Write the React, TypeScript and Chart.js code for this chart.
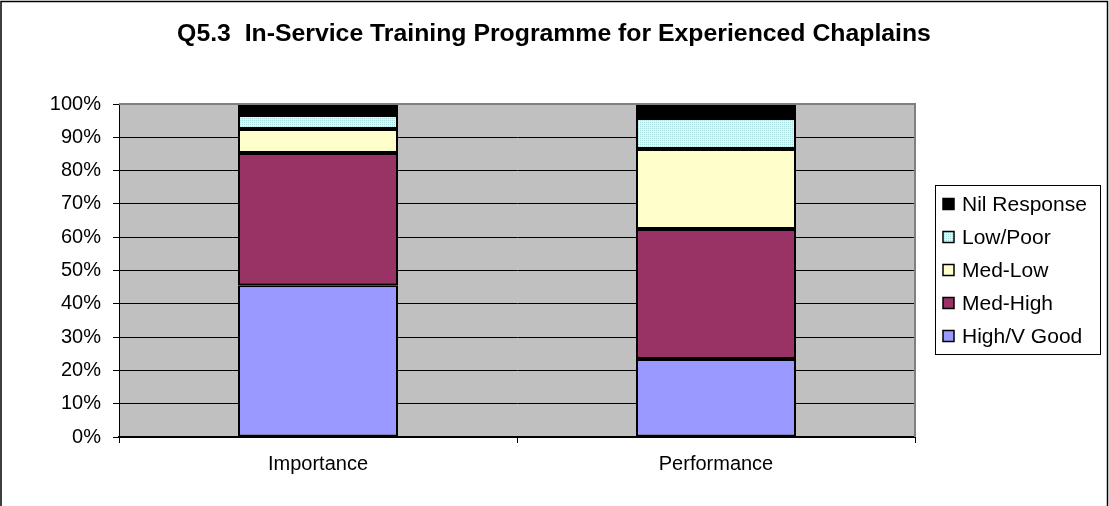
import React, { useEffect, useRef } from "react";
import { Chart, registerables } from "chart.js";

Chart.register(...registerables);

const categories = ["Importance", "Performance"];
const seriesNames = ["High/V Good", "Med-High", "Med-Low", "Low/Poor", "Nil Response"];
const highVGood = [45.6, 23.4];
const medHigh = [39.7, 39.1];
const medLow = [7.2, 24.0];
const lowPoor = [4.2, 9.3];
const nilResponse = [3.3, 4.2];
const yTicks = [0, 10, 20, 30, 40, 50, 60, 70, 80, 90, 100];
const titleText = "Q5.3  In-Service Training Programme for Experienced Chaplains";

const FONT = "'Liberation Sans', Arial, sans-serif";

function makeDotPattern(): CanvasPattern | string {
  const c = document.createElement("canvas");
  c.width = 2;
  c.height = 2;
  const g = c.getContext("2d");
  if (!g) return "#CCFFFF";
  g.fillStyle = "#CCFFFF";
  g.fillRect(0, 0, 2, 2);
  g.fillStyle = "#A8DCDC";
  g.fillRect(0, 0, 1, 1);
  const p = g.createPattern(c, "repeat");
  return p || "#CCFFFF";
}

export default function App() {
  const ref = useRef<HTMLCanvasElement | null>(null);

  useEffect(() => {
    document.body.style.margin = "0";
    const canvas = ref.current;
    if (!canvas) return;
    const dots = makeDotPattern();
    const colors: any[] = ["#9999FF", "#993366", "#FFFFCC", dots, "#000000"];
    const values = [highVGood, medHigh, medLow, lowPoor, nilResponse];

    const bgPlugin = {
      id: "plotBg",
      beforeDraw(chart: any) {
        const { ctx, chartArea } = chart;
        ctx.save();
        ctx.fillStyle = "#FFFFFF";
        ctx.fillRect(0, 0, chart.width, chart.height);
        ctx.fillStyle = "#C0C0C0";
        ctx.fillRect(chartArea.left, chartArea.top, chartArea.right - chartArea.left, chartArea.bottom - chartArea.top);
        ctx.restore();
      },
      afterDraw(chart: any) {
        const { ctx, chartArea } = chart;
        ctx.save();
        // plot area border (gray) top & right
        ctx.strokeStyle = "#808080";
        ctx.lineWidth = 2;
        ctx.beginPath();
        ctx.moveTo(chartArea.left, chartArea.top);
        ctx.lineTo(chartArea.right, chartArea.top);
        ctx.lineTo(chartArea.right, chartArea.bottom);
        ctx.stroke();
        // outer border
        ctx.strokeStyle = "#000000";
        ctx.lineWidth = 1.5;
        ctx.strokeRect(1, 1.5, chart.width - 2.5, chart.height + 20);
        // title
        ctx.fillStyle = "#000000";
        ctx.font = "bold 24.8px " + FONT;
        ctx.textAlign = "center";
        ctx.textBaseline = "middle";
        ctx.fillText(titleText, chart.width / 2 - 0.5, 34);
        // legend
        const bx = 935, by = 185, bw = 165, bh = 169;
        ctx.fillStyle = "#FFFFFF";
        ctx.fillRect(bx, by, bw, bh);
        ctx.strokeStyle = "#000000";
        ctx.lineWidth = 1;
        ctx.strokeRect(bx + 0.5, by + 0.5, bw, bh);
        const ds = chart.data.datasets;
        ctx.font = "21px " + FONT;
        ctx.textAlign = "left";
        ctx.textBaseline = "middle";
        for (let i = 0; i < ds.length; i++) {
          const d = ds[ds.length - 1 - i];
          const y = 204 + i * 33;
          ctx.fillStyle = d.backgroundColor;
          ctx.fillRect(943, y - 5.5, 11, 11);
          ctx.strokeStyle = "#000000";
          ctx.lineWidth = 1.5;
          ctx.strokeRect(943, y - 5.5, 11, 11);
          ctx.fillStyle = "#000000";
          ctx.fillText(d.label, 962, y + 1);
        }
        ctx.restore();
      },
    };

    const chart = new Chart(canvas, {
      type: "bar",
      data: {
        labels: categories,
        datasets: seriesNames.map((name, i) => ({
          label: name,
          data: values[i],
          backgroundColor: colors[i],
          borderColor: "#000000",
          borderWidth: 2,
          borderSkipped: false,
          barPercentage: 0.402,
          categoryPercentage: 1,
        })),
      },
      options: {
        responsive: false,
        animation: false,
        devicePixelRatio: 1,
        layout: { padding: { top: 104, right: 194, bottom: 0, left: 0 } },
        plugins: {
          legend: { display: false },
          title: { display: false },
          tooltip: { enabled: false },
        },
        scales: {
          x: {
            stacked: true,
            offset: true,
            afterFit: (s: any) => {
              s.height = 69;
            },
            grid: {
              offset: true,
              drawOnChartArea: false,
              drawTicks: true,
              tickLength: 6,
              color: "#000000",
            },
            border: { color: "#000000", width: 2 },
            ticks: {
              color: "#000000",
              font: { family: FONT, size: 20 },
              padding: 9,
              maxRotation: 0,
            },
          },
          y: {
            stacked: true,
            min: 0,
            max: 100,
            afterFit: (s: any) => {
              s.width = 119;
            },
            afterBuildTicks: (s: any) => {
              s.ticks = yTicks.map((v) => ({ value: v }));
            },
            grid: {
              color: "#000000",
              lineWidth: 1,
              tickLength: 6,
              drawTicks: true,
            },
            border: { color: "#000000", width: 1 },
            ticks: {
              color: "#000000",
              font: { family: FONT, size: 20 },
              padding: 12,
              callback: (v: any) => v + "%",
            },
          },
        },
      },
      plugins: [bgPlugin],
    });

    return () => chart.destroy();
  }, []);

  return (
    <div style={{ width: 1109, height: 506 }}>
      <canvas ref={ref} width={1109} height={506} style={{ display: "block" }} />
    </div>
  );
}
